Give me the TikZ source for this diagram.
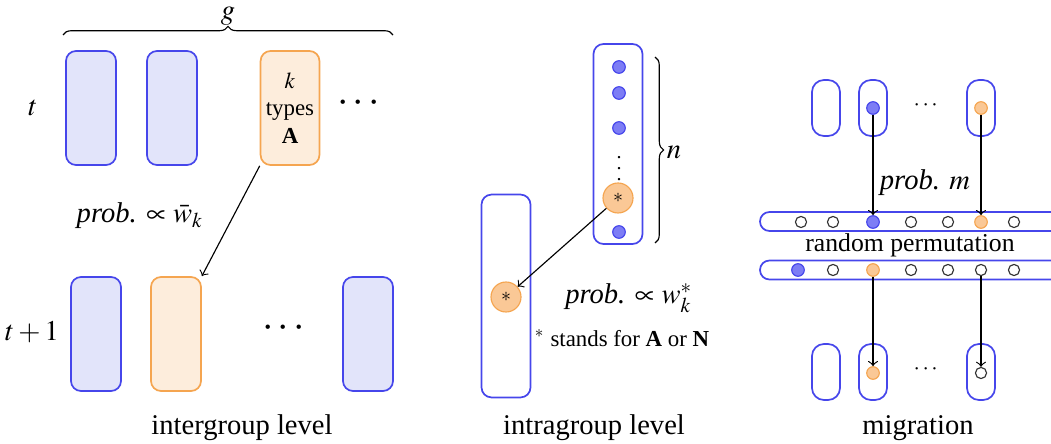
\documentclass[tikz,border=0pt]{standalone}
\usepackage{amsmath,amssymb}
\usepackage{mathptmx}
\usepackage{fontspec}
\setmainfont{Liberation Serif}
\usepackage{tikz}
\usetikzlibrary{shapes,positioning,decorations.pathreplacing}
\usetikzlibrary{arrows}
\definecolor{grpblue}{RGB}{70,70,235}
\definecolor{grpfill}{RGB}{226,228,250}
\definecolor{dotblue}{RGB}{125,125,245}
\definecolor{grporange}{RGB}{245,165,80}
\definecolor{orangefill}{RGB}{253,237,220}
\definecolor{dotorange}{RGB}{250,200,150}

\begin{document}
\begin{tikzpicture}[x=0.35pt, y=-0.35pt, >=to,
  grp/.style={draw=grpblue, fill=grpfill, rounded corners=3.5pt, line width=0.6pt, minimum width=17.5pt, minimum height=39.9pt, inner sep=0pt},
  grpA/.style={grp, draw=grporange, fill=orangefill},
  cell/.style={draw=grpblue, rounded corners=4.2pt, line width=0.6pt, minimum width=9.8pt, minimum height=19.6pt, inner sep=0pt},
  band/.style={draw=grpblue, rounded corners=3.3pt, line width=0.6pt, minimum width=108.5pt, minimum height=6.65pt, inner sep=0pt},
  ind/.style={circle, draw=grpblue, fill=dotblue, minimum size=4.4pt, inner sep=0pt},
  indA/.style={circle, draw=grporange, fill=dotorange, minimum size=4.4pt, inner sep=0pt},
  indO/.style={circle, draw=black!80, fill=white, line width=0.4pt, minimum size=3.9pt, inner sep=0pt},
  star/.style={circle, draw=grporange, fill=dotorange, minimum size=10.5pt, inner sep=0pt, font=\scriptsize},
  mytext/.style={inner sep=1pt}]
  \clip (0,0) rectangle (1051,444);

  % intergroup level
  \draw[decorate, decoration={brace, amplitude=3pt}] (63,35) -- (393,35);
  \node[mytext] (g) at (228,16) {$g$};
  \node[mytext] (t) at (33,108) {$t$};
  \node[grp] (a1) at (91,108) {};
  \node[grp] (a2) at (172,108) {};
  \node[grpA, minimum width=20.6pt, align=center, font=\footnotesize] (a3) at (290,108) {$k$\\types\\\textbf{A}};
  \node[mytext, font=\Large] (adots) at (361,104) {$\cdots$};
  \node[mytext] (t1) at (32,332) {$t+1$};
  \node[grp] (b1) at (96,334) {};
  \node[grpA] (b2) at (176,334) {};
  \node[mytext, font=\Large] (bdots) at (286,329) {$\cdots$};
  \node[grp] (b3) at (368,334) {};
  \draw[->] (a3.south west) -- (b2.north east);
  \node[mytext, inner sep=0pt] (pa) at (140,216) {\textit{prob.} $\propto \bar{w}_k$};
  \node[mytext] (la) at (242,428) {intergroup level};

  % intragroup level
  \node[grp, minimum height=70pt, minimum width=17.15pt, fill=none] (c1) at (618,144) {};
  \node[ind] (d1) at (619,67) {};
  \node[ind] (d2) at (619,93) {};
  \node[ind] (d3) at (619,128) {};
  \node[mytext, font=\scriptsize, inner sep=0pt] (d4) at (619,160) {$\vdots$};
  \node[star] (s1) at (618,198) {$*$};
  \node[ind] (d5) at (619,232) {};
  \draw[decorate, decoration={brace, amplitude=3pt}] (655,57) -- (655,243);
  \node[mytext] (n) at (674,152) {$n$};
  \node[grp, minimum height=71pt, minimum width=17.15pt, fill=none] (c2) at (506,296) {};
  \node[star] (s2) at (506,297) {$*$};
  \draw[->] (s1) -- (s2);
  \node[mytext] (pb) at (629,298) {\textit{prob.} $\propto w^*_k$};
  \node[mytext, font=\footnotesize] (st) at (622,338) {$^*$ stands for \textbf{A} or \textbf{N}};
  \node[mytext] (lb) at (594,428) {intragroup level};

  % migration
  \node[cell] (e1) at (826,108) {};
  \node[cell] (e2) at (873,108) {};
  \node[cell] (e3) at (981,108) {};
  \node[ind] (m1) at (873,108) {};
  \node[indA] (m2) at (981,108) {};
  \node[mytext, font=\footnotesize] (edots) at (927,106) {$\cdots$};
  \node[band] (r1) at (915,221.5) {};
  \node[band] (r2) at (915,270) {};
  \foreach \x/\s [count=\i] in {801/indO, 833/indO, 873/ind, 911/indO, 948/indO, 981/indA, 1014/indO}
    \node[\s] (p\i) at (\x,222) {};
  \foreach \x/\s [count=\i] in {798/ind, 833/indO, 873/indA, 911/indO, 948/indO, 981/indO, 1014/indO}
    \node[\s] (q\i) at (\x,270) {};
  \node[mytext] (pm) at (925,183) {\textit{prob.} $m$};
  \node[mytext, font=\small, inner sep=0pt] (rp) at (910,245) {random permutation};
  \node[cell] (f1) at (826,372) {};
  \node[cell] (f2) at (873,372) {};
  \node[cell] (f3) at (981,372) {};
  \node[indA] (o1) at (873,373) {};
  \node[indO] (o2) at (981,373) {};
  \node[mytext, font=\footnotesize] (fdots) at (927,370) {$\cdots$};
  \draw[->] (m1) -- (p3);
  \draw[->] (m2) -- (p6);
  \draw[->] (q3) -- (o1);
  \draw[->] (q6) -- (o2);
  \node[mytext] (lc) at (918,428) {migration};
\end{tikzpicture}
\end{document}
